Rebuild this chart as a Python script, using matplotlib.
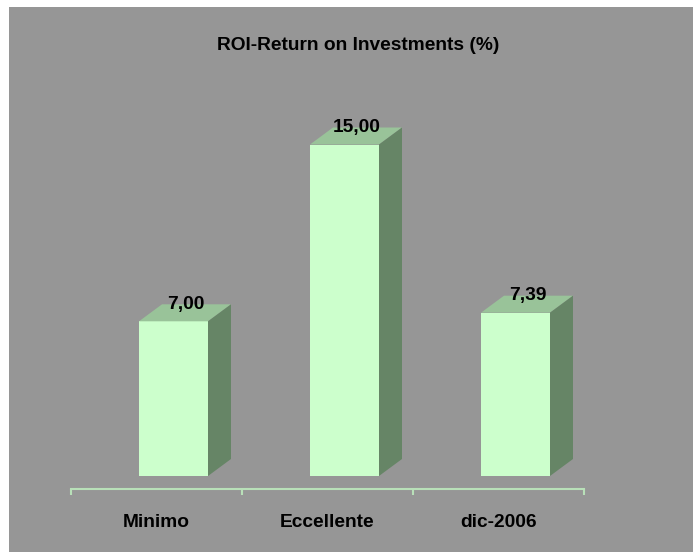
import matplotlib
matplotlib.use("Agg")
import matplotlib.pyplot as plt
from matplotlib.patches import Polygon, Rectangle

# data
categories = ['Minimo', 'Eccellente', 'dic-2006']
roi_values = [7.00, 15.00, 7.39]
value_labels = ['7,00', '15,00', '7,39']

W, H = 693, 552
BG = '#969696'
FRONT = '#CCFFCC'
TOP = '#99C399'
SIDE = '#668566'
AXIS = '#B8E0B8'

plt.rcParams['font.family'] = ['Liberation Sans', 'DejaVu Sans']
plt.rcParams['font.weight'] = 'bold'

fig = plt.figure(figsize=(W / 100, H / 100), dpi=100, facecolor='white')
fig.patches.append(Rectangle((9 / W, 0), 1, 1 - 7 / H, transform=fig.transFigure,
                             facecolor=BG, edgecolor='none', zorder=-10))

# axes placed in pixel terms: x 71..584, y (from top) 100..489
px_per_unit = 22.1
ax_top, ax_bot = 100, 489
floor_px = 476
ax = fig.add_axes([71 / W, (H - ax_bot) / H, (584 - 71) / W, (ax_bot - ax_top) / H])
ax.set_facecolor('none')
ax.set_xlim(-0.5, 2.5)
ax.set_ylim(-(ax_bot - floor_px) / px_per_unit, (floor_px - ax_top) / px_per_unit)

# 3d depth offsets in data units
dx = 23 / 171
dy = 17 / px_per_unit
bw = 69 / 171
shift = 17 / 171  # front face sits right of the category centre

for i, v in enumerate(roi_values):
    xc = i + shift
    x0, x1 = xc - bw / 2, xc + bw / 2
    ax.bar(xc, v, width=bw, color=FRONT, edgecolor='none', zorder=3)
    ax.add_patch(Polygon([(x0, v), (x1, v), (x1 + dx, v + dy), (x0 + dx, v + dy)],
                         closed=True, facecolor=TOP, edgecolor='none', zorder=3))
    ax.add_patch(Polygon([(x1, 0), (x1 + dx, dy), (x1 + dx, v + dy), (x1, v)],
                         closed=True, facecolor=SIDE, edgecolor='none', zorder=3))
    ax.text(xc + 12 / 171, v + dy, value_labels[i], ha='center', va='center',
            fontsize=13.8, fontweight='bold', color='black', zorder=4, clip_on=False)

for s in ['top', 'right', 'left']:
    ax.spines[s].set_visible(False)
ax.spines['bottom'].set_color(AXIS)
ax.spines['bottom'].set_linewidth(1.5)
ax.set_yticks([])
ax.set_xticks([-0.5, 0.5, 1.5, 2.5])
ax.set_xticklabels([])
ax.tick_params(axis='x', which='major', direction='out', length=4.5, width=1.5, color=AXIS)
ax.set_xticks([0, 1, 2], minor=True)
ax.set_xticklabels(categories, minor=True, fontsize=13.8, fontweight='bold')
ax.tick_params(axis='x', which='minor', length=0, pad=18)

fig.text(358 / W, 1 - 46 / H, 'ROI-Return on Investments (%)', ha='center', va='center',
         fontsize=13.8, fontweight='bold')

fig.savefig('out.png', dpi=100, facecolor='white')
